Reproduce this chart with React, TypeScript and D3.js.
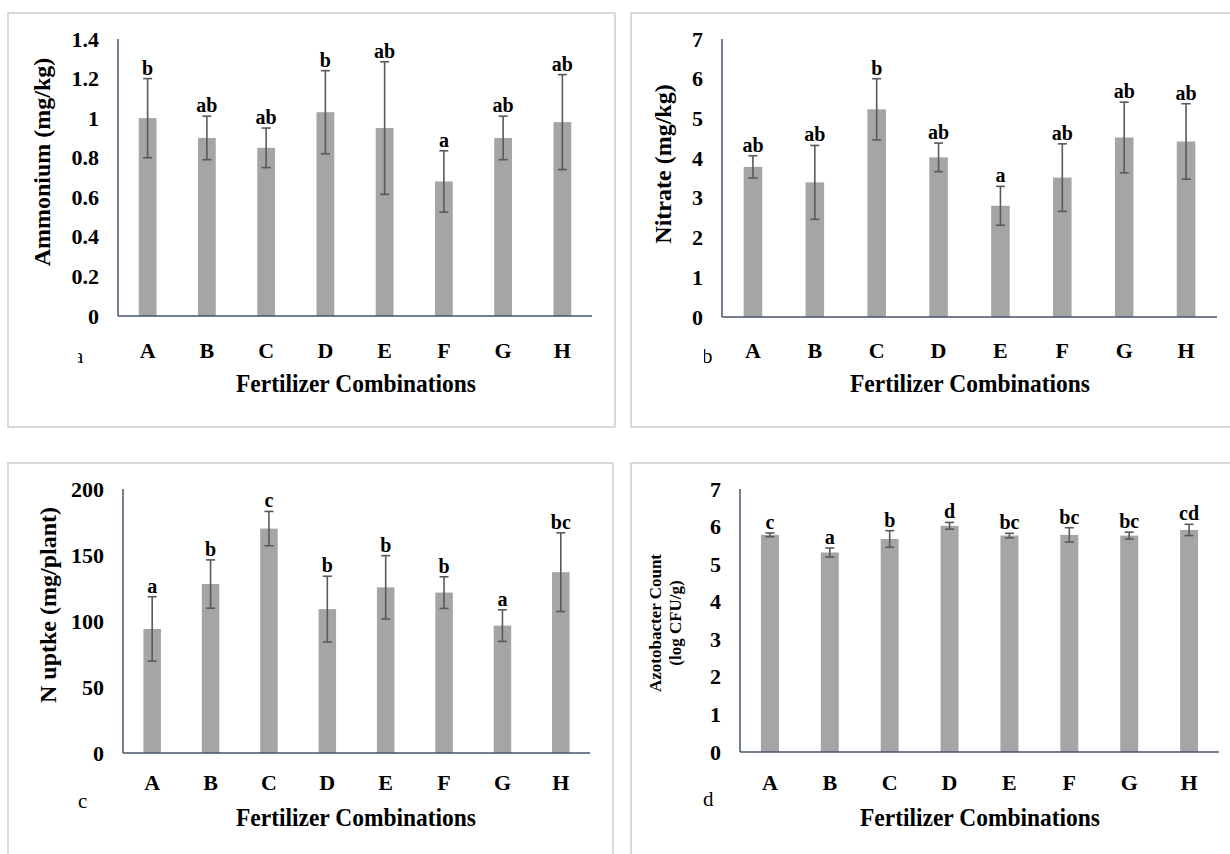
import React from 'react';
import * as d3 from 'd3';

const categories = ['A', 'B', 'C', 'D', 'E', 'F', 'G', 'H'];

const ammoniumMean = [1.0, 0.9, 0.85, 1.03, 0.95, 0.68, 0.9, 0.98];
const ammoniumErr = [0.2, 0.11, 0.1, 0.21, 0.335, 0.155, 0.11, 0.24];
const ammoniumLetters = ['b', 'ab', 'ab', 'b', 'ab', 'a', 'ab', 'ab'];
const ammoniumTicks = [0, 0.2, 0.4, 0.6, 0.8, 1, 1.2, 1.4];

const nitrateMean = [3.78, 3.39, 5.23, 4.02, 2.8, 3.51, 4.52, 4.42];
const nitrateErr = [0.28, 0.93, 0.77, 0.36, 0.49, 0.85, 0.89, 0.95];
const nitrateLetters = ['ab', 'ab', 'b', 'ab', 'a', 'ab', 'ab', 'ab'];
const nitrateTicks = [0, 1, 2, 3, 4, 5, 6, 7];

const uptakeMean = [94, 128, 170, 109, 125.5, 121.5, 96.5, 137];
const uptakeErr = [24.4, 18.3, 13, 24.9, 24, 12, 12, 29.8];
const uptakeLetters = ['a', 'b', 'c', 'b', 'b', 'b', 'a', 'bc'];
const uptakeTicks = [0, 50, 100, 150, 200];

const azotoMean = [5.78, 5.31, 5.67, 6.02, 5.76, 5.78, 5.76, 5.91];
const azotoErr = [0.05, 0.12, 0.22, 0.09, 0.06, 0.19, 0.09, 0.15];
const azotoLetters = ['c', 'a', 'b', 'd', 'bc', 'bc', 'bc', 'cd'];
const azotoTicks = [0, 1, 2, 3, 4, 5, 6, 7];

const xTitle = 'Fertilizer Combinations';
const serif = "'Liberation Serif', Tinos, 'Times New Roman', 'DejaVu Serif', serif";

type PanelProps = {
  box: [number, number, number, number];
  x0: number; x1: number; yTop: number; yZero: number;
  yMax: number;
  means: number[]; errs: number[]; letters: string[]; ticks: number[];
  yTitle: string[]; yTitleX: number; yTitleY: number; yTitleSize: number;
  catY: number; titleY: number; titleX: number;
  tag: string; tagX: number; tagY: number; tagClip?: [number, number, number, number];
  id: string;
};

const bold = { fontFamily: serif, fontWeight: 700 } as React.CSSProperties;

function Panel(p: PanelProps) {
  const x = d3.scaleBand<string>().domain(categories).range([p.x0, p.x1]).paddingInner(0.7).paddingOuter(0.35);
  const y = d3.scaleLinear().domain([0, p.yMax]).range([p.yZero, p.yTop]);
  const [bx, by, bw, bh] = p.box;
  return (
    <g>
      <rect x={bx} y={by} width={bw} height={bh} fill="#fff" stroke="#d9d9d9" strokeWidth={2} />
      {p.ticks.map((t) => (
        <text key={t} x={p.x0 - 19} y={y(t) + 7.5} textAnchor="end" style={{ ...bold, fontSize: 22 }} fill="#000">
          {String(t)}
        </text>
      ))}
      {categories.map((c, i) => {
        const cx = (x(c) as number) + x.bandwidth() / 2;
        const top = y(p.means[i]);
        const eu = y(p.means[i] + p.errs[i]);
        const el = y(p.means[i] - p.errs[i]);
        return (
          <g key={c}>
            <rect x={x(c)} y={top} width={x.bandwidth()} height={p.yZero - top} fill="#a5a5a5" />
            <line x1={cx} x2={cx} y1={eu} y2={el} stroke="#595959" strokeWidth={1.6} />
            <line x1={cx - 4.5} x2={cx + 4.5} y1={eu} y2={eu} stroke="#595959" strokeWidth={1.6} />
            <line x1={cx - 4.5} x2={cx + 4.5} y1={el} y2={el} stroke="#595959" strokeWidth={1.6} />
            <text x={cx} y={eu - 4} textAnchor="middle" style={{ ...bold, fontSize: 20 }} fill="#000">
              {p.letters[i]}
            </text>
            <text x={cx} y={p.catY} textAnchor="middle" style={{ ...bold, fontSize: 22 }} fill="#000">
              {c}
            </text>
          </g>
        );
      })}
      <line x1={p.x0} x2={p.x0} y1={p.yTop} y2={p.yZero} stroke="#44546a" strokeWidth={1.5} />
      <line x1={p.x0} x2={p.x1} y1={p.yZero} y2={p.yZero} stroke="#44546a" strokeWidth={1.5} />
      <text
        transform={`translate(${p.yTitleX},${p.yTitleY}) rotate(-90)`}
        textAnchor="middle"
        style={{ ...bold, fontSize: p.yTitleSize }}
        fill="#000"
      >
        {p.yTitle.map((s, k) => (
          <tspan key={k} x={0} dy={k === 0 ? 0 : p.yTitleSize * 1.2}>{s}</tspan>
        ))}
      </text>
      <text x={p.titleX} y={p.titleY} textAnchor="middle" style={{ ...bold, fontSize: 25 }} textLength={240} lengthAdjust="spacingAndGlyphs" fill="#000">
        {xTitle}
      </text>
      {p.tagClip && (
        <clipPath id={`clip-${p.id}`}>
          <rect x={p.tagClip[0]} y={p.tagClip[1]} width={p.tagClip[2]} height={p.tagClip[3]} />
        </clipPath>
      )}
      <text x={p.tagX} y={p.tagY} style={{ fontFamily: serif, fontSize: 21 }} fill="#000" clipPath={p.tagClip ? `url(#clip-${p.id})` : undefined}>
        {p.tag}
      </text>
    </g>
  );
}

export default function App() {
  return (
    <svg width={1230} height={854} style={{ position: 'absolute', left: 0, top: 0, background: '#fff' }}>
      <rect x={0} y={0} width={1230} height={854} fill="#fff" />
      <Panel
        id="a" box={[8, 13, 607, 414]} x0={118} x1={592} yTop={39} yZero={316} yMax={1.4}
        means={ammoniumMean} errs={ammoniumErr} letters={ammoniumLetters} ticks={ammoniumTicks}
        yTitle={['Ammonium (mg/kg)']} yTitleX={50} yTitleY={162} yTitleSize={24}
        catY={358} titleX={356} titleY={392}
        tag="a" tagX={74} tagY={363} tagClip={[78, 340, 20, 30]}
      />
      <Panel
        id="b" box={[631, 13, 610, 414]} x0={722} x1={1217} yTop={39} yZero={317} yMax={7}
        means={nitrateMean} errs={nitrateErr} letters={nitrateLetters} ticks={nitrateTicks}
        yTitle={['Nitrate (mg/kg)']} yTitleX={671} yTitleY={164} yTitleSize={24}
        catY={358} titleX={970} titleY={392}
        tag="b" tagX={702} tagY={363} tagClip={[704, 340, 20, 30]}
      />
      <Panel
        id="c" box={[8, 463, 605, 400]} x0={123} x1={590} yTop={489} yZero={753} yMax={200}
        means={uptakeMean} errs={uptakeErr} letters={uptakeLetters} ticks={uptakeTicks}
        yTitle={['N uptke (mg/plant)']} yTitleX={56} yTitleY={605} yTitleSize={24}
        catY={790} titleX={356} titleY={826}
        tag="c" tagX={78} tagY={808}
      />
      <Panel
        id="d" box={[631, 463, 610, 400]} x0={740} x1={1219} yTop={489} yZero={752} yMax={7}
        means={azotoMean} errs={azotoErr} letters={azotoLetters} ticks={azotoTicks}
        yTitle={['Azotobacter Count', '(log CFU/g)']} yTitleX={661} yTitleY={623} yTitleSize={17}
        catY={790} titleX={980} titleY={826}
        tag="d" tagX={703} tagY={806}
      />
    </svg>
  );
}
